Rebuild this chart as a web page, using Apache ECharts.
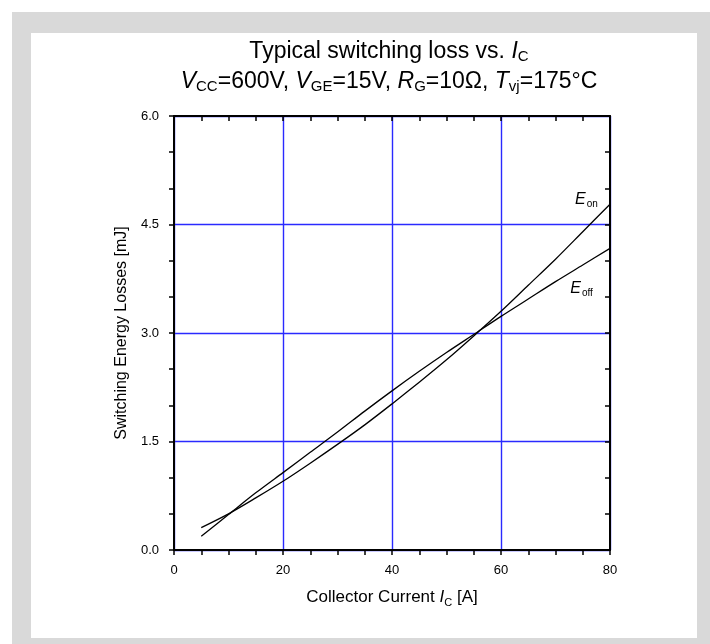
<!DOCTYPE html>
<html>
<head>
<meta charset="utf-8">
<script src="https://cdn.jsdelivr.net/npm/echarts@6/dist/echarts.min.js"></script>
<style>
  html, body { margin: 0; padding: 0; background: #ffffff; }
  #chart { width: 710px; height: 644px; }
</style>
</head>
<body>
<div id="chart"></div>
<script>
// Collector current samples [A]
const currents = [5, 10, 15, 20, 25, 30, 35, 40, 45, 50, 55, 60, 65, 70, 75, 80];
// Turn-on switching energy [mJ]
const eOn  = [0.31, 0.50, 0.72, 0.95, 1.20, 1.46, 1.73, 2.02, 2.32, 2.63, 2.96, 3.30, 3.66, 4.02, 4.40, 4.78];
// Turn-off switching energy [mJ]
const eOff = [0.19, 0.49, 0.79, 1.07, 1.35, 1.63, 1.92, 2.20, 2.47, 2.73, 2.98, 3.23, 3.47, 3.71, 3.94, 4.17];
// Axis tick values
const xTicks = [0, 20, 40, 60, 80];
const yTicks = [0, 1.5, 3.0, 4.5, 6.0];
// Curve label anchors in data units [A, mJ]
const labelOn  = [73.6, 4.84];
const labelOff = [72.7, 3.61];

const FONT = '"Liberation Sans", Arial, sans-serif';
const BLUE = '#2a2aff';
const chart = echarts.init(document.getElementById('chart'), null, { renderer: 'canvas' });

const titleRich = {
  n:   { fontFamily: FONT, fontSize: 23, color: '#000', lineHeight: 30 },
  i:   { fontFamily: FONT, fontSize: 23, color: '#000', fontStyle: 'italic', lineHeight: 30 },
  sub: { fontFamily: FONT, fontSize: 15, color: '#000', lineHeight: 30, padding: [9, 0, 0, 0] }
};
const axRich = {
  n:   { fontFamily: FONT, fontSize: 17, color: '#000', lineHeight: 22 },
  i:   { fontFamily: FONT, fontSize: 17, color: '#000', fontStyle: 'italic', lineHeight: 22 },
  sub: { fontFamily: FONT, fontSize: 11, color: '#000', lineHeight: 22, padding: [11, 0, 0, 0] }
};

const pair = (xs, ys) => xs.map((x, k) => [x, ys[k]]);

const axisLine = { show: true, onZero: false, lineStyle: { color: '#000', width: 2 } };
const ticks = inside => ({ show: true, inside: inside, length: 5, lineStyle: { color: '#000', width: 1.5 } });
const labelFont = { color: '#000', fontFamily: FONT, fontSize: 13 };
const blueGrid = { show: true, lineStyle: { color: BLUE, width: 1.4 } };

const frame = [
  { type: 'rect', z: -10, shape: { x: 12, y: 12, width: 698, height: 632 }, style: { fill: '#d9d9d9' }, silent: true },
  { type: 'rect', z: -9, shape: { x: 31, y: 33, width: 666, height: 605 }, style: { fill: '#ffffff' }, silent: true }
];

chart.setOption({
  animation: false,
  backgroundColor: '#ffffff',
  graphic: frame,
  title: {
    left: 384, top: 32, textAlign: 'center',
    text: '{n|Typical switching loss vs. }{i|I}{sub|C}\n' +
          '{i|V}{sub|CC}{n|=600V, }{i|V}{sub|GE}{n|=15V, }{i|R}{sub|G}{n|=10Ω, }{i|T}{sub|vj}{n|=175°C}',
    textStyle: { rich: titleRich, fontFamily: FONT, fontSize: 23, fontWeight: 'normal', color: '#000', lineHeight: 30 }
  },
  grid: { left: 174, right: 100, top: 116, bottom: 94, containLabel: false },
  xAxis: [
    {
      type: 'value', position: 'bottom', min: xTicks[0], max: xTicks[xTicks.length - 1], interval: 20,
      axisLine: axisLine,
      axisTick: ticks(false),
      minorTick: Object.assign({ splitNumber: 4 }, ticks(false)),
      splitLine: blueGrid,
      axisLabel: Object.assign({ margin: 14 }, labelFont),
      name: '{n|Collector Current }{i|I}{sub|C}{n| [A]}',
      nameLocation: 'middle', nameGap: 36,
      nameTextStyle: { rich: axRich, fontFamily: FONT, fontSize: 17, color: '#000' }
    },
    {
      type: 'value', position: 'top', min: 0, max: 80, interval: 20,
      axisLine: axisLine,
      axisTick: ticks(true),
      minorTick: Object.assign({ splitNumber: 4 }, ticks(true)),
      splitLine: { show: false },
      axisLabel: { show: false }
    }
  ],
  yAxis: [
    {
      type: 'value', position: 'left', min: yTicks[0], max: yTicks[yTicks.length - 1], interval: 1.5,
      axisLine: axisLine,
      axisTick: ticks(false),
      minorTick: Object.assign({ splitNumber: 3 }, ticks(false)),
      splitLine: blueGrid,
      axisLabel: Object.assign({ margin: 15, formatter: v => v.toFixed(1) }, labelFont),
      name: 'Switching Energy Losses [mJ]',
      nameLocation: 'middle', nameGap: 38,
      nameTextStyle: { fontFamily: FONT, fontSize: 16, color: '#000' }
    },
    {
      type: 'value', position: 'right', min: 0, max: 6, interval: 1.5,
      axisLine: axisLine,
      axisTick: ticks(true),
      minorTick: Object.assign({ splitNumber: 3 }, ticks(true)),
      splitLine: { show: false },
      axisLabel: { show: false }
    }
  ],
  series: [
    {
      name: 'Eon', type: 'line', data: pair(currents, eOn), smooth: 0.3,
      showSymbol: false, lineStyle: { color: '#000', width: 1.3 }, z: 5
    },
    {
      name: 'Eoff', type: 'line', data: pair(currents, eOff), smooth: 0.3,
      showSymbol: false, lineStyle: { color: '#000', width: 1.3 }, z: 5
    }
  ]
});

// Curve names placed next to their lines
const curveLabel = (anchor, sub) => {
  const p = chart.convertToPixel({ xAxisIndex: 0, yAxisIndex: 0 }, anchor);
  return {
    type: 'text', x: p[0], y: p[1], z: 10,
    style: {
      text: '{e|E}{s|' + sub + '}',
      align: 'left', verticalAlign: 'middle',
      rich: {
        e: { fontFamily: FONT, fontSize: 16, fontStyle: 'italic', fill: '#000', lineHeight: 20 },
        s: { fontFamily: FONT, fontSize: 10, fill: '#000', lineHeight: 20, padding: [8, 0, 0, 1] }
      }
    }
  };
};
chart.setOption({
  graphic: frame.concat([curveLabel(labelOn, 'on'), curveLabel(labelOff, 'off')])
});
</script>
</body>
</html>
